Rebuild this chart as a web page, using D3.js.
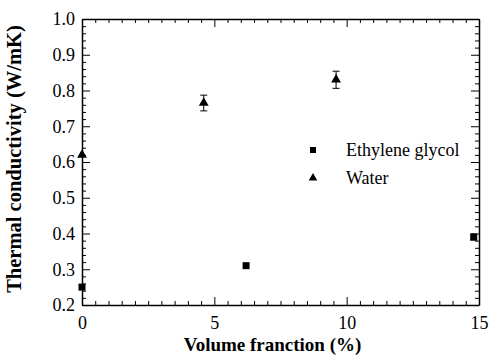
<!DOCTYPE html>
<html>
<head>
<meta charset="utf-8">
<script src="https://cdn.jsdelivr.net/npm/d3@7"></script>
<style>
  body { margin: 0; background: #fff; }
  .axis path { stroke: #000; stroke-width: 1.5; }
  .axis line { stroke: #000; stroke-width: 1; }
  .axis text { fill: #000; }
</style>
</head>
<body>
<div id="chart"></div>
<script>
// Data
var glycolX = [0, 6.2, 14.8]
var glycolY = [0.25, 0.31, 0.39]
var glycolErr = [0, 0, 0.008]

var waterX = [0, 4.6, 9.6]
var waterY = [0.62, 0.765, 0.83]
var waterErr = [0, 0.022, 0.024]

var xTicks = [0, 5, 10, 15]
var yTicks = [0.2, 0.3, 0.4, 0.5, 0.6, 0.7, 0.8, 0.9, 1.0]

var legendNames = ['Ethylene glycol', 'Water']

var serif = 'Liberation Serif'

var margin = { top: 19, left: 82, right: 13, bottom: 51 }
var width = 492 - margin.left - margin.right
var height = 356 - margin.top - margin.bottom

var svg = d3
  .select('#chart')
  .append('svg')
  .attr('width', 492)
  .attr('height', 356)
  .attr('font-family', serif)
  .append('g')
  .attr('transform', `translate(${margin.left},${margin.top})`)

var x = d3.scaleLinear().domain([0, 15]).range([0, width])
var y = d3.scaleLinear().domain([0.2, 1.0]).range([height, 0])

var xMinor = d3.range(0, 15.01, 0.5).filter(v => v % 5 !== 0)
var yMinor = d3.range(0.2, 1.001, 0.02).filter(v => Math.abs(v * 10 - Math.round(v * 10)) > 0.01)

function addAxis(gen, tr, ticks, minor, major, labels) {
  svg.append('g')
    .attr('class', 'axis')
    .attr('transform', tr)
    .call(gen.tickValues(minor).tickSize(-4).tickFormat(''))
    .select('.domain').remove()
  var g = svg.append('g')
    .attr('class', 'axis')
    .attr('transform', tr)
    .call(gen.tickValues(ticks).tickSizeInner(-major).tickSizeOuter(0).tickPadding(6)
      .tickFormat(labels ? labels : ''))
  g.attr('font-family', serif).attr('font-size', 18)
  return g
}

// bottom, top, left, right
var bottom = addAxis(d3.axisBottom(x), `translate(0,${height})`, xTicks, xMinor, 8, d3.format('d'))
bottom.selectAll('text').attr('dy', '1em')
addAxis(d3.axisTop(x), 'translate(0,0)', xTicks, xMinor, 8, null)
var left = addAxis(d3.axisLeft(y), 'translate(0,0)', yTicks, yMinor, 8, d3.format('.1f'))
left.selectAll('text').attr('dx', '-1px')
addAxis(d3.axisRight(y), `translate(${width},0)`, yTicks, yMinor, 8, null)

// axis titles
svg.append('text')
  .attr('x', width / 2 - 8)
  .attr('y', height + 46)
  .attr('text-anchor', 'middle')
  .attr('font-family', serif)
  .attr('font-size', 19)
  .attr('font-weight', 'bold')
  .text('Volume franction (%)')

svg.append('text')
  .attr('transform', `translate(${-61},${height / 2 - 3}) rotate(-90)`)
  .attr('text-anchor', 'middle')
  .attr('font-family', serif)
  .attr('font-size', 20.5)
  .attr('font-weight', 'bold')
  .text('Thermal conductivity (W/mK)')

var glycol = glycolX.map((v, i) => ({ x: v, y: glycolY[i], e: glycolErr[i] }))
var water = waterX.map((v, i) => ({ x: v, y: waterY[i], e: waterErr[i] }))

// error bars
function errorBars(data) {
  var g = svg.append('g').selectAll('g')
    .data(data.filter(d => d.e > 0))
    .enter()
    .append('g')
  g.append('line')
    .attr('x1', d => x(d.x)).attr('x2', d => x(d.x))
    .attr('y1', d => y(d.y - d.e)).attr('y2', d => y(d.y + d.e))
    .attr('stroke', '#000')
  ;[-1, 1].forEach(s => {
    g.append('line')
      .attr('x1', d => x(d.x) - 3.5).attr('x2', d => x(d.x) + 3.5)
      .attr('y1', d => y(d.y + s * d.e)).attr('y2', d => y(d.y + s * d.e))
      .attr('stroke', '#000')
  })
}
errorBars(glycol)
errorBars(water)

var square = d3.symbol().type(d3.symbolSquare).size(49)
var triangle = d3.symbol().type(d3.symbolTriangle).size(42)

svg.selectAll('.glycol')
  .data(glycol)
  .enter()
  .append('path')
  .attr('class', 'glycol')
  .attr('d', square)
  .attr('transform', d => `translate(${x(d.x)},${y(d.y)})`)

svg.selectAll('.water')
  .data(water)
  .enter()
  .append('path')
  .attr('class', 'water')
  .attr('d', triangle)
  .attr('transform', d => `translate(${x(d.x)},${y(d.y)})`)

// legend
var legend = svg.append('g').attr('transform', 'translate(231,131)')
legend.append('path').attr('d', d3.symbol().type(d3.symbolSquare).size(36)).attr('transform', 'translate(0,0)')
legend.append('path').attr('d', d3.symbol().type(d3.symbolTriangle).size(32)).attr('transform', 'translate(0,28)')
legend.selectAll('text')
  .data(legendNames)
  .enter()
  .append('text')
  .attr('x', 33)
  .attr('y', (d, i) => i * 28 + 6)
  .attr('font-family', serif)
  .attr('font-size', 18)
  .text(d => d)
</script>
</body>
</html>
